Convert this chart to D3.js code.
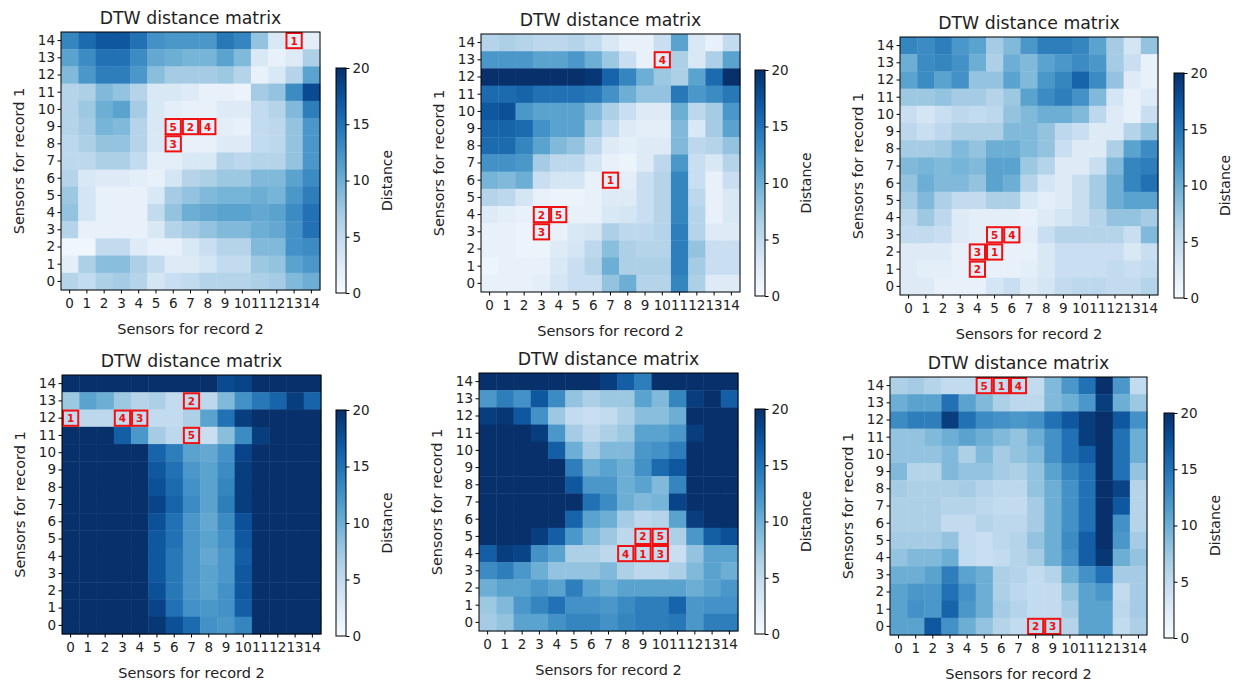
<!DOCTYPE html>
<html>
<head>
<meta charset="utf-8">
<script src="https://cdn.jsdelivr.net/npm/d3@7"></script>
<style>
  body { margin: 0; background: #fff; }
  text { font-family: "DejaVu Sans", sans-serif; fill: #222; }
</style>
</head>
<body>
<svg id="chart" width="1246" height="685"></svg>
<script>

// tick labels, sensor ids on both axes
const sensors = [0, 1, 2, 3, 4, 5, 6, 7, 8, 9, 10, 11, 12, 13, 14]
const titleText = 'DTW distance matrix'

// each matrix: rows listed from sensor 14 (top) down to sensor 0 (bottom), columns 0..14
const dtwA = [
  [13.5, 15.5, 17, 17, 15, 12.5, 12, 12, 12, 14.5, 13.5, 8, 3, 2, 2],
  [11, 13, 15, 15, 13, 10.5, 10, 9.5, 9.5, 11, 9, 3, 1.5, 2.5, 6.5],
  [9, 12, 14, 14, 12, 8.5, 7, 7, 7, 7.5, 6, 1.5, 3, 6, 11],
  [6, 6.5, 9, 8, 6, 3, 3, 2.5, 1.5, 1.5, 1.2, 7, 8, 13, 18],
  [6, 7.5, 10, 11, 7, 3, 2, 1.5, 1.5, 2.5, 2.5, 5, 6, 9, 14],
  [6, 7, 9.5, 9, 6, 3, 2, 2, 2, 2, 1.5, 5, 5.5, 8, 12],
  [5.5, 6.5, 8, 8, 6, 3, 2, 1.5, 1.5, 2.5, 2.5, 5, 5.5, 8, 12],
  [5.5, 5.5, 6.5, 6.5, 5, 2, 2, 3, 3, 6, 5.5, 6, 6, 8, 12],
  [6, 3, 2.5, 2.5, 2, 1.5, 3.5, 6, 6.5, 7.5, 7.5, 9, 9, 11, 13],
  [7.5, 3.5, 1.5, 1.5, 1.5, 3, 7, 8, 9, 9.5, 9.5, 10, 9.5, 12, 14],
  [8, 3.5, 1.5, 1.5, 1.5, 5, 8, 10, 10.5, 11, 11, 10.5, 11, 13, 15],
  [6, 1.5, 1.5, 1.5, 1.5, 3, 6, 7, 8, 9, 9, 10, 10.5, 12.5, 15],
  [0.8, 0.8, 5, 5, 2.5, 1.5, 1.5, 3, 4.5, 6, 6, 9, 9, 12.5, 13],
  [2, 6.5, 8.5, 8.5, 6.5, 5, 2.5, 2.5, 3.5, 5, 5, 7.5, 8, 11, 12],
  [6, 5, 6.5, 7, 6, 3.5, 4.5, 5, 6, 6, 6, 6.5, 7, 9, 10]
]
const dtwB = [
  [6, 6.5, 6, 5.5, 5.5, 6, 5, 3, 1.5, 1.5, 4.5, 11, 3, 1.5, 5],
  [12, 12, 12, 11, 11, 12, 10, 7.5, 4.5, 1.5, 2, 6.5, 3, 6.5, 11],
  [20, 20, 20, 20, 20, 20, 19.5, 16, 13.5, 10, 7.5, 6.5, 11, 15.5, 20],
  [15.5, 15.5, 16, 15, 15, 15, 14.5, 12.5, 10, 8, 8, 14.5, 12, 13, 14.5],
  [17, 17.5, 12, 11, 11, 11, 9, 6.5, 4.5, 2.5, 2.5, 10, 5.5, 7, 12],
  [16, 16, 15.5, 12.5, 11, 11, 7.5, 5, 2.5, 2, 2, 9, 3, 7, 11],
  [15.5, 15.5, 13.5, 11, 9, 8, 5.5, 2.5, 2, 2.5, 2.5, 9, 5.5, 6, 8],
  [12.5, 12.5, 12, 7, 5.5, 5.5, 3.5, 1.5, 1.2, 2.5, 5.5, 12, 4.5, 3, 6],
  [9.5, 9, 10, 4.5, 3.5, 3.5, 1.5, 2, 2, 4.5, 6, 13.5, 4.5, 1.5, 4.5],
  [6, 5.5, 3.5, 1.5, 1.2, 1.2, 1.5, 2.5, 2.5, 4.5, 6, 13.5, 5.5, 1.5, 3],
  [2.5, 2, 1.5, 2, 2, 1.5, 1.5, 3, 3.5, 4.5, 6, 13.5, 6, 1.5, 3],
  [1.5, 1.5, 1.2, 2, 1.5, 3, 3.5, 6.5, 5.5, 5.5, 6, 14, 6, 2.5, 2.5],
  [1.5, 1.5, 1.2, 1.2, 2.5, 3.5, 5.5, 8.5, 6.5, 6, 6, 14, 8, 4.5, 4.5],
  [1, 1.5, 1.5, 1.5, 3, 4.5, 6, 10, 6.5, 6.5, 6.5, 14, 7, 4.5, 4.5],
  [1.5, 1.5, 1.5, 2, 3.5, 4.5, 4.5, 8, 10, 6, 6, 13.5, 6.5, 2.5, 2.5]
]
const dtwC = [
  [13.5, 13, 14, 12, 11, 7, 9, 12, 14, 14, 13.5, 11, 7, 3.5, 8],
  [10, 13, 13.5, 12.5, 10, 6.5, 10, 9, 11, 12, 13, 12, 7, 4.5, 1.5],
  [11, 13, 11, 12.5, 8, 8, 11, 9, 12, 13.5, 16, 13, 8, 2.5, 1.5],
  [7.5, 7.5, 8, 7, 7, 6, 7.5, 11, 13, 14, 12.5, 9, 3.5, 1.5, 2.5],
  [4.5, 3.5, 4.5, 5.5, 5, 5.5, 8, 9, 10, 10, 9, 5.5, 2.5, 1.5, 4.5],
  [5.5, 4.5, 5.5, 6.5, 6.5, 6.5, 9, 9, 8, 5.5, 4.5, 2.5, 2.5, 6, 8],
  [7, 7, 7.5, 9, 8, 10, 10, 9, 8, 4.5, 2.5, 2.5, 6.5, 11, 13],
  [9, 9.5, 9, 9.5, 9, 11, 11, 7.5, 6, 2.5, 2.5, 4.5, 9, 13.5, 14],
  [8, 10, 9, 9, 8, 11, 10, 6, 3.5, 2.5, 4.5, 7, 10, 13.5, 15],
  [7, 9, 6.5, 5, 5, 6.5, 6.5, 3, 2, 2.5, 4.5, 7, 10, 11, 11],
  [5.5, 7.5, 5.5, 2.5, 2, 2, 2, 1.5, 2.5, 3.5, 4.5, 6, 8, 8, 7],
  [5, 5, 4.5, 2.5, 2, 2, 2, 2, 4.5, 6, 6, 6, 6, 4.5, 9],
  [2.5, 2.5, 2.5, 1.5, 2, 2, 1.5, 1.5, 3, 4.5, 4.5, 4.5, 4.5, 3, 4.5],
  [2.5, 2, 2, 1.5, 2, 1.5, 1.5, 2, 3, 4.5, 4.5, 4.5, 5, 4.5, 5],
  [2.5, 2.5, 1.5, 1.5, 1.5, 3.5, 4.5, 2.5, 3.5, 5, 5.5, 5.5, 5, 5, 6]
]
const dtwD = [
  [20, 20, 20, 20, 20, 20, 20, 20, 20, 18, 18.5, 20, 20, 20, 20],
  [7.5, 11, 10, 7.5, 6, 6.5, 5, 5, 5.5, 9, 12.5, 14.5, 16, 19, 16],
  [5, 5.5, 5.5, 5, 5, 5, 5, 6.5, 11, 15, 19, 20, 20, 20, 20],
  [20, 20, 20, 16.5, 12, 7, 5.5, 5, 4.5, 8.5, 13, 19, 20, 20, 20],
  [20, 20, 20, 20, 20, 16, 14, 11, 10.5, 12.5, 18.5, 20, 20, 20, 20],
  [20, 20, 20, 20, 20, 17, 15, 12, 11, 13, 19, 20, 20, 20, 20],
  [20, 20, 20, 20, 20, 17.5, 15.5, 12.5, 11, 13.5, 19, 20, 20, 20, 20],
  [20, 20, 20, 20, 20, 18.5, 16, 13, 11, 14, 19, 20, 20, 20, 20],
  [20, 20, 20, 20, 20, 17.5, 15, 12, 10.5, 13, 17.5, 20, 20, 20, 20],
  [20, 20, 20, 20, 20, 17, 15, 12, 11, 12.5, 17, 20, 20, 20, 20],
  [20, 20, 20, 20, 20, 17, 14.5, 12, 10.5, 12, 16.5, 20, 20, 20, 20],
  [20, 20, 20, 20, 20, 17, 14.5, 12, 11, 12, 17, 20, 20, 20, 20],
  [20, 20, 20, 20, 20, 17.5, 14.5, 12, 11, 12.5, 17, 20, 20, 20, 20],
  [20, 20, 20, 20, 20, 18.5, 15, 12.5, 12, 12.5, 16.5, 20, 20, 20, 20],
  [20, 20, 20, 20, 20, 19.5, 17.5, 15.5, 12.5, 12, 13.5, 20, 20, 20, 20]
]
const dtwE = [
  [20, 20, 20, 20, 20, 20, 20, 19, 16.5, 14, 20, 20, 20, 20, 20],
  [12, 14, 12.5, 17, 13, 8, 6.5, 7.5, 7.5, 11, 9, 13.5, 19, 20, 16.5],
  [19, 19.5, 17, 12.5, 7.5, 5, 4.5, 5, 6.5, 8.5, 8.5, 10, 20, 20, 20],
  [20, 20, 20, 19, 12, 7, 5.5, 6.5, 7.5, 11, 11, 12, 19, 20, 20],
  [20, 20, 20, 20, 16.5, 10, 7, 9, 9, 12, 12.5, 14, 20, 20, 20],
  [20, 20, 20, 20, 20, 14, 10, 11, 10, 12.5, 15.5, 17, 20, 20, 20],
  [20, 20, 20, 20, 20, 17, 12, 12, 10, 11, 9, 13.5, 20, 20, 20],
  [20, 20, 20, 20, 20, 20, 15, 13, 10, 9, 9.5, 18.5, 20, 20, 20],
  [20, 20, 20, 20, 20, 16, 11, 10, 7, 5.5, 6, 11, 19, 20, 20],
  [20, 20, 20, 19, 16.5, 12, 9, 7.5, 5.5, 5, 5, 6.5, 12, 16.5, 17.5],
  [16.5, 19, 18.5, 12.5, 11, 6.5, 6.5, 5.5, 5, 5, 5, 4.5, 8, 11, 11],
  [13, 14, 12, 10, 8, 8, 8, 9, 6.5, 5.5, 5.5, 6.5, 9, 11, 10],
  [10, 11, 11, 12, 11, 14, 11, 10, 11, 11, 11, 11, 10, 11, 12],
  [7.5, 9, 12, 13.5, 15, 12.5, 12.5, 12, 13, 14, 14, 16, 12, 12.5, 12.5],
  [7, 8, 11, 11, 12.5, 13.5, 13.5, 12.5, 13.5, 14, 14, 14.5, 12, 14, 14]
]
const dtwF = [
  [6.5, 7, 6, 5, 5, 5, 5, 5, 5, 9, 12, 15, 20, 12, 5],
  [10, 11, 11, 15, 11, 9, 6.5, 5.5, 5.5, 9, 10, 12, 19, 10, 7.5],
  [13, 14, 14, 19, 15, 13, 12.5, 12, 12.5, 15, 17, 19, 20, 17, 12.5],
  [8, 8, 9, 10, 11, 10, 9, 8, 10, 12.5, 15, 19, 20, 15, 10],
  [8, 8, 8, 9, 6.5, 9, 7, 8, 9, 12.5, 15, 16.5, 20, 15, 10],
  [9, 6, 6, 9, 8, 8, 7, 6.5, 8, 11, 13.5, 15, 20, 15, 8],
  [7, 6.5, 6.5, 6.5, 7, 6, 5.5, 5.5, 8, 10, 12.5, 15, 20, 18.5, 6],
  [6.5, 6.5, 6.5, 6, 6, 5.5, 5, 5, 7, 10, 12.5, 15, 20, 17, 6],
  [6.5, 6.5, 6.5, 5, 5, 6, 5.5, 5.5, 7, 10, 12.5, 15, 20, 12.5, 6],
  [7, 7, 7, 8, 5, 4.5, 5.5, 6, 8, 10, 13, 16.5, 20, 12, 7],
  [8, 9, 9, 10, 5, 4.5, 5, 6, 7, 10, 12.5, 16.5, 19.5, 10, 8],
  [10, 10, 11, 14, 11, 10, 6.5, 6, 5, 6, 10, 12.5, 15, 7, 7],
  [11, 12, 12, 15, 12.5, 10, 6.5, 5.5, 5, 5, 8, 11, 12, 5, 7],
  [11, 12.5, 12, 16, 12, 10, 7, 6, 5, 5, 7, 11, 11, 5.5, 7],
  [11, 11, 17, 12.5, 10, 8, 6, 5, 5, 5, 6, 11, 11, 5, 6.5]
]

// highlighted cells: n = rank shown in the box, r = sensor of record 1, c = sensor of record 2
const marksA = [{ n: 1, r: 14, c: 13 }, { n: 5, r: 9, c: 6 }, { n: 2, r: 9, c: 7 }, { n: 4, r: 9, c: 8 }, { n: 3, r: 8, c: 6 }]
const marksB = [{ n: 4, r: 13, c: 10 }, { n: 1, r: 6, c: 7 }, { n: 2, r: 4, c: 3 }, { n: 5, r: 4, c: 4 }, { n: 3, r: 3, c: 3 }]
const marksC = [{ n: 5, r: 3, c: 5 }, { n: 4, r: 3, c: 6 }, { n: 3, r: 2, c: 4 }, { n: 1, r: 2, c: 5 }, { n: 2, r: 1, c: 4 }]
const marksD = [{ n: 2, r: 13, c: 7 }, { n: 1, r: 12, c: 0 }, { n: 4, r: 12, c: 3 }, { n: 3, r: 12, c: 4 }, { n: 5, r: 11, c: 7 }]
const marksE = [{ n: 2, r: 5, c: 9 }, { n: 5, r: 5, c: 10 }, { n: 4, r: 4, c: 8 }, { n: 1, r: 4, c: 9 }, { n: 3, r: 4, c: 10 }]
const marksF = [{ n: 5, r: 14, c: 5 }, { n: 1, r: 14, c: 6 }, { n: 4, r: 14, c: 7 }, { n: 2, r: 0, c: 8 }, { n: 3, r: 0, c: 9 }]

const cbTicks = [0, 5, 10, 15, 20]

// where each subplot sits on the page (heatmap box + colorbar box)
const panels = [
  { data: dtwA, marks: marksA, x: 61, y: 32, w: 259, h: 258, cbX: 336, cbY: 68, cbH: 225 },
  { data: dtwB, marks: marksB, x: 481, y: 34, w: 259, h: 258, cbX: 755, cbY: 70, cbH: 226 },
  { data: dtwC, marks: marksC, x: 900, y: 37, w: 258, h: 258, cbX: 1174, cbY: 73, cbH: 225 },
  { data: dtwD, marks: marksD, x: 62, y: 375, w: 259, h: 259, cbX: 336, cbY: 410, cbH: 226 },
  { data: dtwE, marks: marksE, x: 479, y: 373, w: 259, h: 258, cbX: 755, cbY: 409, cbH: 225 },
  { data: dtwF, marks: marksF, x: 890, y: 377, w: 257, h: 258, cbX: 1164, cbY: 413, cbH: 225 }
]

const color = d3.scaleSequential(d3.interpolateBlues).domain([0, 20])
const svg = d3.select('#chart')

// vertical gradient for the colorbars (0 at bottom, 20 at top)
const grad = svg.append('defs').append('linearGradient')
  .attr('id', 'blues').attr('x1', 0).attr('y1', 1).attr('x2', 0).attr('y2', 0)
grad.selectAll('stop').data(d3.range(0, 1.0001, 0.05)).enter().append('stop')
  .attr('offset', d => d)
  .attr('stop-color', d => color(d * 20))

function drawPanel(p) {
  const g = svg.append('g').attr('transform', 'translate(' + p.x + ',' + p.y + ')')

  const x = d3.scaleBand().domain(sensors).range([0, p.w])
  const y = d3.scaleBand().domain(sensors.slice().reverse()).range([0, p.h])

  const cells = []
  p.data.forEach((row, i) => row.forEach((v, j) => cells.push({ r: 14 - i, c: j, v: v })))

  g.selectAll('rect.cell').data(cells).enter().append('rect')
    .attr('class', 'cell')
    .attr('x', d => x(d.c))
    .attr('y', d => y(d.r))
    .attr('width', x.bandwidth() + 0.4)
    .attr('height', y.bandwidth() + 0.4)
    .attr('fill', d => color(d.v))

  // red boxes with the rank
  const mk = g.selectAll('g.mark').data(p.marks).enter().append('g')
    .attr('transform', d => 'translate(' + x(d.c) + ',' + y(d.r) + ')')
  mk.append('rect')
    .attr('x', 1).attr('y', 1)
    .attr('width', x.bandwidth() - 2).attr('height', y.bandwidth() - 2)
    .attr('fill', 'none').attr('stroke', '#f01010').attr('stroke-width', 2)
  mk.append('text')
    .attr('x', x.bandwidth() / 2).attr('y', y.bandwidth() / 2 + 4)
    .attr('text-anchor', 'middle')
    .style('font-size', '10.5px').style('font-weight', 'bold').style('fill', '#f01010')
    .text(d => d.n)

  g.append('rect').attr('width', p.w).attr('height', p.h)
    .attr('fill', 'none').attr('stroke', '#000').attr('stroke-width', 1)

  const xAx = g.append('g').attr('transform', 'translate(0,' + p.h + ')')
    .call(d3.axisBottom(x).tickSize(3.5).tickPadding(4.5))
  const yAx = g.append('g').call(d3.axisLeft(y).tickSize(3.5).tickPadding(2.5))
  ;[xAx, yAx].forEach(a => {
    a.select('.domain').remove()
    a.selectAll('text').style('font-size', '13.5px').attr('fill', '#222')
  })

  g.append('text').attr('x', p.w / 2).attr('y', -8)
    .attr('text-anchor', 'middle').style('font-size', '17.3px')
    .text(titleText)
  g.append('text').attr('x', p.w / 2).attr('y', p.h + 44)
    .attr('text-anchor', 'middle').style('font-size', '14.5px')
    .text('Sensors for record 2')
  g.append('text')
    .attr('transform', 'translate(-37,' + (p.h / 2) + ') rotate(-90)')
    .attr('text-anchor', 'middle').style('font-size', '14.5px')
    .text('Sensors for record 1')

  // colorbar
  const cb = svg.append('g').attr('transform', 'translate(' + p.cbX + ',' + p.cbY + ')')
  cb.append('rect').attr('width', 10).attr('height', p.cbH)
    .attr('fill', 'url(#blues)').attr('stroke', '#000').attr('stroke-width', 1)
  const cs = d3.scaleLinear().domain([0, 20]).range([p.cbH, 0])
  const cAx = cb.append('g').attr('transform', 'translate(10,0)')
    .call(d3.axisRight(cs).tickValues(cbTicks).tickSize(3.5).tickPadding(3))
  cAx.select('.domain').remove()
  cAx.selectAll('text').style('font-size', '13.5px').attr('fill', '#222')
  cb.append('text')
    .attr('transform', 'translate(' + 56 + ',' + (p.cbH / 2) + ') rotate(-90)')
    .attr('text-anchor', 'middle').style('font-size', '14px')
    .text('Distance')
}

panels.forEach(drawPanel)

</script>
</body>
</html>
